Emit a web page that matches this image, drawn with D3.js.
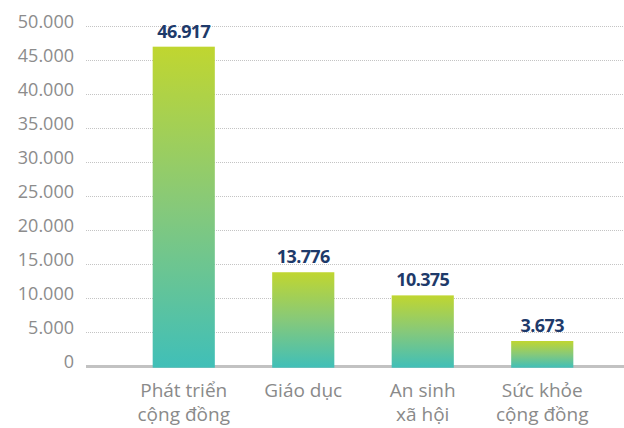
<!DOCTYPE html>
<html><head><meta charset="utf-8">
<script src="https://cdn.jsdelivr.net/npm/d3@7"></script>
<style>html,body{margin:0;padding:0;background:#fff;}svg{display:block;}</style>
</head><body>
<svg id="chart" width="624" height="428"></svg>
<script>
const categories = [["Phát triển","cộng đồng"],["Giáo dục"],["An sinh","xã hội"],["Sức khỏe","cộng đồng"]];
const values = [46917, 13776, 10375, 3673];
const yTicks = [0,5000,10000,15000,20000,25000,30000,35000,40000,45000,50000];

const svg = d3.select("#chart");
const loc = d3.formatLocale({decimal:",", thousands:".", grouping:[3], currency:["",""]});
const fmt = loc.format(",d");

const x = d3.scaleBand().domain(d3.range(values.length)).range([124, 602]).paddingInner(0.48).paddingOuter(0.24);
const y = d3.scaleLinear().domain([0, 50000]).range([366, 25.7]);

const defs = svg.append("defs");
const grad = defs.append("linearGradient").attr("id","barGrad").attr("x1",0).attr("y1",0).attr("x2",0).attr("y2",1);
grad.append("stop").attr("offset","0%").attr("stop-color","#c0d630");
grad.append("stop").attr("offset","50%").attr("stop-color","#86c97a");
grad.append("stop").attr("offset","100%").attr("stop-color","#40bfb8");

// gridlines
const yAxis = d3.axisLeft(y).tickValues(yTicks).tickFormat(fmt).tickSize(0).tickPadding(0);
const gAxis = svg.append("g").attr("transform","translate(74,0)").call(yAxis);
gAxis.select(".domain").remove();
gAxis.selectAll("text").attr("font-family","'Open Sans', sans-serif").attr("font-size",18).attr("fill","#8c8c8c").attr("dy","0.08em").attr("x",0);

svg.append("g").selectAll("line").data(yTicks.filter(d=>d>0)).join("line")
  .attr("x1",86).attr("x2",624).attr("y1",d=>Math.round(y(d))+0.5).attr("y2",d=>Math.round(y(d))+0.5)
  .attr("stroke","#c4c4c4").attr("stroke-width",1).attr("stroke-dasharray","1,1");

// baseline
svg.append("line").attr("x1",86).attr("x2",624).attr("y1",y(0)+0.5).attr("y2",y(0)+0.5)
  .attr("stroke","#c2c2c2").attr("stroke-width",3);

// bars
svg.append("g").selectAll("rect").data(values).join("rect")
  .attr("x",(d,i)=>x(i)).attr("width",x.bandwidth())
  .attr("y",d=>y(d)).attr("height",d=>y(0)+1.7-y(d))
  .attr("fill","url(#barGrad)");

// value labels
svg.append("g").selectAll("text").data(values).join("text")
  .attr("x",(d,i)=>x(i)+x.bandwidth()/2).attr("y",d=>y(d)-9)
  .attr("text-anchor","middle").attr("font-family","'Open Sans', sans-serif")
  .attr("font-weight",700).attr("font-size",18).attr("letter-spacing","-0.6")
  .attr("fill","#1e3a6a").text(d=>fmt(d));

// category labels
const cat = svg.append("g").selectAll("text").data(categories).join("text")
  .attr("x",(d,i)=>x(i)+x.bandwidth()/2).attr("y",397)
  .attr("text-anchor","middle").attr("font-family","'Open Sans', sans-serif")
  .attr("font-size",19).attr("fill","#8a8a8a");
cat.selectAll("tspan").data(d=>d).join("tspan")
  .attr("x",function(){return this.parentNode.getAttribute("x");})
  .attr("dy",(d,i)=>i===0?0:24).text(d=>d);
</script>
</body></html>
